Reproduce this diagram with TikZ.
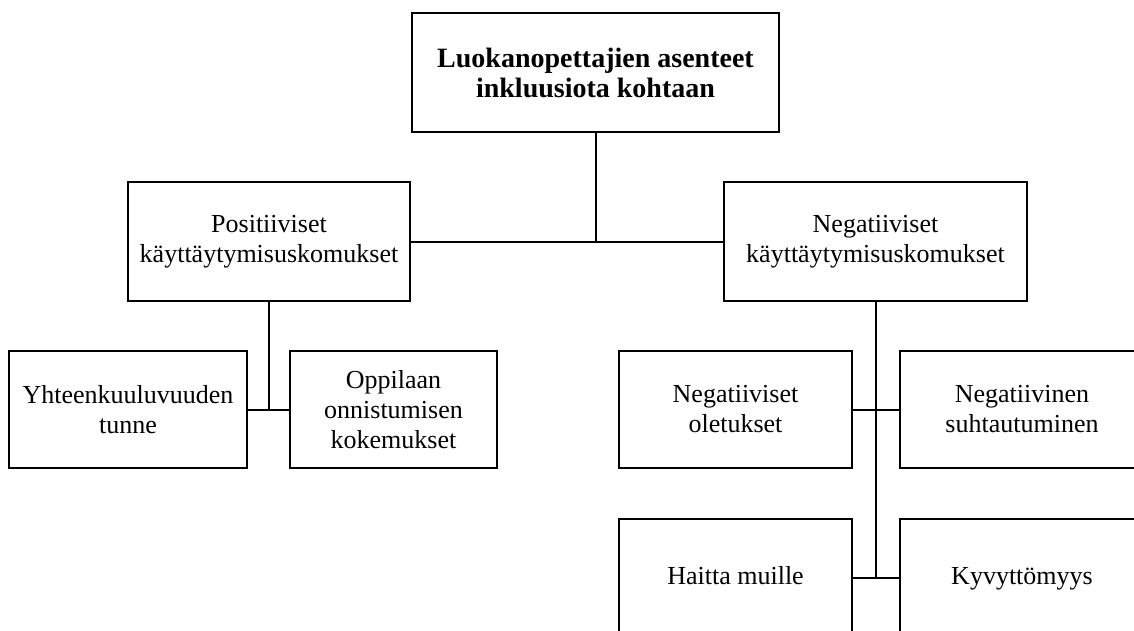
\documentclass[tikz,border=0pt]{standalone}
\usepackage{fontspec}
\setmainfont{Liberation Serif}
\usepackage{tikz}

\begin{document}
\begin{tikzpicture}[x=0.5pt, y=-0.5pt, line width=1pt,
    box/.style={draw=black, rectangle, align=center, inner sep=0pt, font={\fontsize{13}{15}\selectfont}},
    single/.style={text height=9pt, text depth=3pt}]
        \clip (0, 0) rectangle (1134, 631);

        \node[box, minimum width=183.5pt, minimum height=59pt, font={\fontsize{14}{15}\selectfont\bfseries}] (asenteet) at (595.5, 72.5) {Luokanopettajien asenteet\\inkluusiota kohtaan};

        \node[box, minimum width=141pt, minimum height=59.5pt] (positiiviset) at (269, 241.5) {Positiiviset\\käyttäytymisuskomukset};
        \node[box, minimum width=151.5pt, minimum height=59.5pt] (negatiiviset) at (875.5, 241.5) {Negatiiviset\\käyttäytymisuskomukset};

        \node[box, minimum width=119pt, minimum height=58.5pt] (yhteenkuuluvuus) at (128, 409.5) {Yhteenkuuluvuuden\\tunne};
        \node[box, minimum width=103.5pt, minimum height=58.5pt] (onnistuminen) at (393.5, 409.5) {Oppilaan\\onnistumisen\\kokemukset};

        \node[box, minimum width=116.5pt, minimum height=58.5pt] (oletukset) at (735.5, 409.5) {Negatiiviset\\oletukset};
        \node[box, minimum width=122pt, minimum height=58.5pt] (suhtautuminen) at (1022, 409.5) {Negatiivinen\\suhtautuminen};

        \node[box, single, minimum width=116.5pt, minimum height=59pt] (haitta) at (735.5, 578) {Haitta muille};
        \node[box, single, minimum width=122pt, minimum height=59pt] (kyvyttomyys) at (1022, 578) {Kyvyttömyys};


        \draw (asenteet.south) -- (asenteet.south |- positiiviset.east);
        \draw (positiiviset.east) -- (negatiiviset.west);

        \draw (positiiviset.south) -- (positiiviset.south |- yhteenkuuluvuus.east);
        \draw (yhteenkuuluvuus.east) -- (onnistuminen.west);

        \draw (negatiiviset.south) -- (negatiiviset.south |- haitta.east);
        \draw (oletukset.east) -- (suhtautuminen.west);
        \draw (haitta.east) -- (kyvyttomyys.west);
    \end{tikzpicture}
\end{document}
